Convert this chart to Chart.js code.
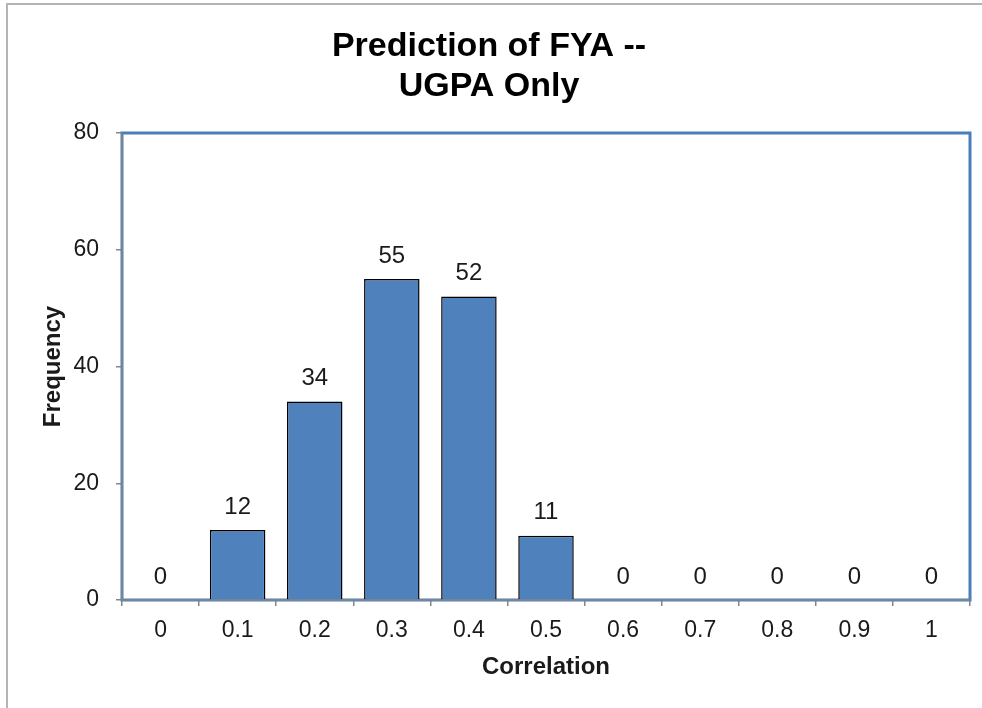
<!DOCTYPE html>
<html>
<head>
<meta charset="utf-8">
<script src="https://cdn.jsdelivr.net/npm/chart.js@4/dist/chart.umd.min.js"></script>
<style>
  html, body { margin: 0; padding: 0; background: #ffffff; }
  #wrap { width: 982px; height: 708px; position: relative; }
</style>
</head>
<body>
<div id="wrap"><canvas id="c" width="982" height="708"></canvas></div>
<script>
const titleLines = ["Prediction of FYA --", "UGPA Only"];
const categories = ["0", "0.1", "0.2", "0.3", "0.4", "0.5", "0.6", "0.7", "0.8", "0.9", "1"];
const frequencies = [0, 12, 34, 55, 52, 11, 0, 0, 0, 0, 0];
const yTicks = [0, 20, 40, 60, 80];
const xAxisTitle = "Correlation";
const yAxisTitle = "Frequency";

const FONT = "'Liberation Sans', Arial, sans-serif";

const framePlugin = {
  id: 'frame',
  beforeDraw(chart) {
    const ctx = chart.ctx;
    ctx.save();
    ctx.fillStyle = '#ffffff';
    ctx.fillRect(0, 0, chart.width, chart.height);
    ctx.strokeStyle = '#b4b4b4';
    ctx.lineWidth = 2;
    ctx.beginPath();
    ctx.moveTo(7, chart.height);
    ctx.lineTo(7, 4);
    ctx.lineTo(chart.width, 4);
    ctx.stroke();
    ctx.restore();
  },
  beforeDatasetsDraw(chart) {
    const a = chart.chartArea;
    const ctx = chart.ctx;
    ctx.save();
    ctx.strokeStyle = '#4a7ebb';
    ctx.lineWidth = 3;
    ctx.strokeRect(a.left, a.top, a.right - a.left, a.bottom - a.top);
    ctx.strokeStyle = '#868686';
    ctx.lineWidth = 1.5;
    ctx.beginPath();
    ctx.moveTo(a.left, a.top);
    ctx.lineTo(a.left, a.bottom);
    ctx.lineTo(a.right, a.bottom);
    ctx.stroke();
    ctx.restore();
  },
  afterDatasetsDraw(chart) {
    const ctx = chart.ctx;
    const meta = chart.getDatasetMeta(0);
    ctx.save();
    ctx.font = "24px " + FONT;
    ctx.fillStyle = '#1a1a1a';
    ctx.textAlign = 'center';
    ctx.textBaseline = 'middle';
    meta.data.forEach((bar, i) => {
      ctx.fillText(String(frequencies[i]), bar.x, bar.y - 23);
    });
    ctx.restore();
  }
};

new Chart(document.getElementById('c'), {
  type: 'bar',
  data: {
    labels: categories,
    datasets: [{
      data: frequencies,
      backgroundColor: '#4f81bd',
      borderColor: '#000000',
      borderWidth: 1.5,
      barPercentage: 0.72,
      categoryPercentage: 1.0
    }]
  },
  options: {
    responsive: false,
    animation: false,
    layout: { padding: { left: 8, right: 12, top: 0, bottom: 0 } },
    plugins: {
      legend: { display: false },
      tooltip: { enabled: false },
      title: {
        display: true,
        text: titleLines,
        color: '#000000',
        font: { family: FONT, size: 34, weight: 'bold', lineHeight: 1.1765 },
        padding: { top: 27, bottom: 26 }
      }
    },
    scales: {
      x: {
        grid: {
          display: true,
          offset: true,
          drawOnChartArea: false,
          drawTicks: true,
          tickLength: 6,
          color: '#868686',
          lineWidth: 1.5
        },
        border: { display: false },
        ticks: {
          color: '#1a1a1a',
          font: { family: FONT, size: 23 },
          padding: 11,
          maxRotation: 0,
          autoSkip: false
        },
        title: {
          display: true,
          text: xAxisTitle,
          color: '#1a1a1a',
          font: { family: FONT, size: 24, weight: 'bold', lineHeight: 1.2 },
          padding: { top: 26, bottom: 26 }
        },
        afterFit(scale) { scale.height = 108; }
      },
      y: {
        min: 0,
        max: 80,
        afterBuildTicks(scale) { scale.ticks = yTicks.map(v => ({ value: v })); },
        grid: {
          display: true,
          drawOnChartArea: false,
          drawTicks: true,
          tickLength: 6,
          color: '#868686',
          lineWidth: 1.5
        },
        border: { display: false },
        ticks: {
          color: '#1a1a1a',
          font: { family: FONT, size: 23 },
          padding: 17
        },
        title: {
          display: true,
          text: yAxisTitle,
          color: '#1a1a1a',
          font: { family: FONT, size: 24, weight: 'bold', lineHeight: 1.2 },
          padding: { top: 31, bottom: 31 }
        },
        afterFit(scale) { scale.width = 114; }
      }
    }
  },
  plugins: [framePlugin]
});
</script>
</body>
</html>
